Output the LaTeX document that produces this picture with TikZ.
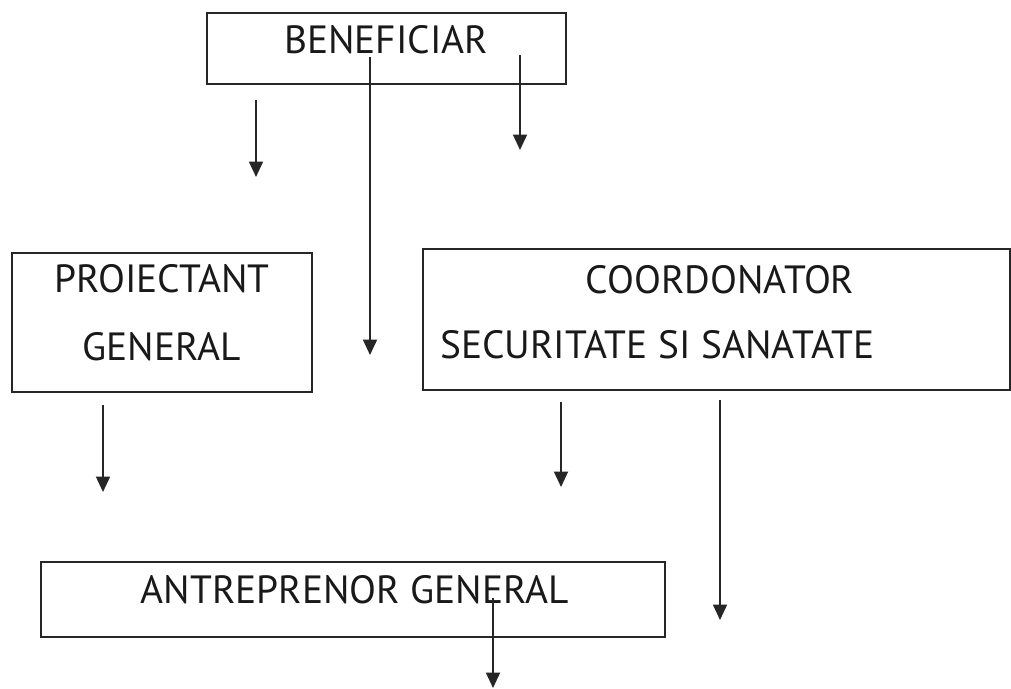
\documentclass[tikz,border=0pt]{standalone}
\usepackage{fontspec}
\setmainfont{PT Sans}
\usetikzlibrary{arrows.meta}

\begin{document}
\begin{tikzpicture}[x=0.025cm,y=-0.025cm,
box/.style={draw,rectangle,inner sep=0pt,line width=1pt,draw=black!85},
label/.style={inner sep=0pt,font=\fontsize{28}{32}\selectfont,text=black!90},
arr/.style={-{Triangle[width=10pt,length=11pt]},line width=1.2pt,draw=black!85}]

\useasboundingbox (0,0) rectangle (1011,689);

% boxes
\node[box,minimum width=8.975cm,minimum height=1.775cm] (BEN) at (386.5,48.5) {};
\node[box,minimum width=7.5cm,minimum height=3.475cm] (PRO) at (162,322.5) {};
\node[box,minimum width=14.675cm,minimum height=3.525cm] (CSS) at (716.5,319.5) {};
\node[box,minimum width=15.6cm,minimum height=1.875cm] (ANT) at (353,599.5) {};

% texts
\node[label] (BENt) at (386,40) {BENEFICIAR};
\node[label] (PROt1) at (162,279) {PROIECTANT};
\node[label] (PROt2) at (162,347) {GENERAL};
\node[label] (CSSt1) at (720,280) {COORDONATOR};
\node[label,anchor=west] (CSSt2) at (440,345) {SECURITATE SI SANATATE};
\node[label] (ANTt) at (355,590) {ANTREPRENOR GENERAL};

% arrows
\coordinate (A1) at (256,100);  \coordinate (A1e) at (256,177);
\coordinate (A2) at (370,57);   \coordinate (A2e) at (370,355);
\coordinate (A3) at (520,55);   \coordinate (A3e) at (520,150);
\coordinate (A4) at (103,405);  \coordinate (A4e) at (103,492);
\coordinate (A5) at (561,402);  \coordinate (A5e) at (561,487);
\coordinate (A6) at (720,400);  \coordinate (A6e) at (720,620);
\coordinate (A7) at (493,598);  \coordinate (A7e) at (493,688);

\foreach \a in {A1,A2,A3,A4,A5,A6,A7}
  \draw[arr] (\a) -- (\a e);

\end{tikzpicture}
\end{document}
